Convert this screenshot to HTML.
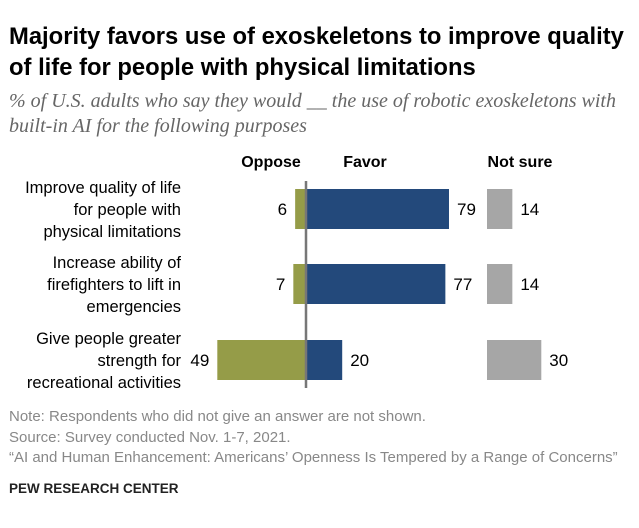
<!DOCTYPE html>
<html><head><meta charset="utf-8"><style>
body{margin:0;background:#fff;width:639px;height:528px;overflow:hidden;font-family:"Liberation Sans",sans-serif}
.t{position:absolute;white-space:nowrap}
</style></head><body>
<div class="t" style="left:9px;top:21px;font-size:23.8px;font-weight:bold;line-height:31px;color:#000">Majority favors use of exoskeletons to improve quality<br>of life for people with physical limitations</div>
<div class="t" style="left:9px;top:89px;font-family:'Liberation Serif',serif;font-style:italic;font-size:20px;line-height:25px;color:#666">% of U.S. adults who say they would __ the use of robotic exoskeletons with<br>built-in AI for the following purposes</div>
<svg id="c" width="639" height="528" style="position:absolute;left:0;top:0"></svg>
<div class="t" style="left:9px;top:407px;font-size:15px;line-height:20.5px;color:#888">Note: Respondents who did not give an answer are not shown.<br>Source: Survey conducted Nov. 1-7, 2021.<br>“AI and Human Enhancement: Americans’ Openness Is Tempered by a Range of Concerns”</div>
<div class="t" style="left:9px;top:481px;font-size:13.5px;font-weight:bold;color:#222">PEW RESEARCH CENTER</div>
<script>
const categories=[["Improve quality of life","for people with","physical limitations"],["Increase ability of","firefighters to lift in","emergencies"],["Give people greater","strength for","recreational activities"]];
const oppose=[6,7,49];
const favor=[79,77,20];
const notSure=[14,14,30];
const svg=document.getElementById('c');const NS='http://www.w3.org/2000/svg';
const cx=306,k=1.81,nsx=487,rowY=[189,264,340],bh=40;
function x(v){return v*k;}
function mk(t,a,txt){const e=document.createElementNS(NS,t);for(const n in a)e.setAttribute(n,a[n]);if(txt!=null)e.textContent=txt;svg.appendChild(e);return e;}
[["Oppose",271,"oppose-header"],["Favor",365,"favor-header"],["Not sure",520,"not-sure-header"]].forEach(h=>{const e=mk('text',{x:h[1],y:167,'text-anchor':'middle','font-size':16,'font-weight':'bold',fill:'#000'},h[0]);

});
categories.forEach((c,i)=>{const y=rowY[i],m=y+bh/2;
let e;
c.forEach((l,j)=>{e=mk('text',{x:181,y:m-22+j*22+6,'text-anchor':'end','font-size':16.5,fill:'#000'},l);

});
e=mk('rect',{x:cx-x(oppose[i]),y:y,width:x(oppose[i]),height:bh,fill:'#959c48'});


e=mk('text',{x:cx-x(oppose[i])-8,y:m+6,'text-anchor':'end','font-size':17,fill:'#000'},oppose[i]);


e=mk('rect',{x:cx,y:y,width:x(favor[i]),height:bh,fill:'#23497b'});


e=mk('text',{x:cx+x(favor[i])+8,y:m+6,'font-size':17,fill:'#000'},favor[i]);


e=mk('rect',{x:nsx,y:y,width:x(notSure[i]),height:bh,fill:'#a6a6a6'});


e=mk('text',{x:nsx+x(notSure[i])+8,y:m+6,'font-size':17,fill:'#000'},notSure[i]);

});
const ln=mk('line',{x1:cx,x2:cx,y1:181,y2:388,stroke:'#777','stroke-width':2.5});


</script>
</body></html>
